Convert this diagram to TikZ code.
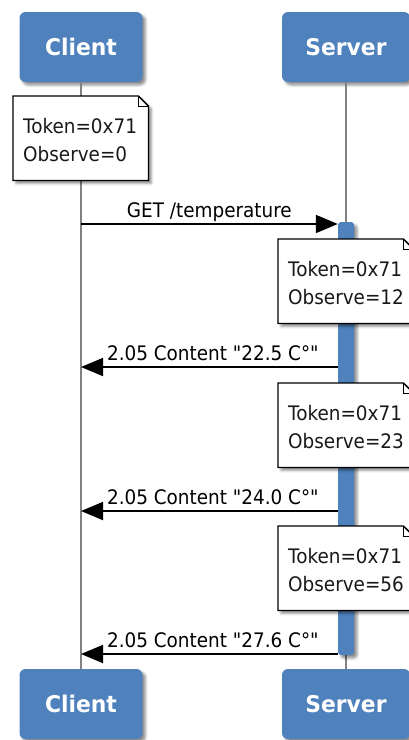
\documentclass[tikz,border=0pt]{standalone}
\usepackage{fontspec}
\usetikzlibrary{arrows.meta,shadows.blur,calc}
\newfontfamily\notefont[FakeStretch=0.92]{DejaVu Sans}
\newfontfamily\headfont[FakeStretch=0.95]{DejaVu Sans}
\definecolor{boxblue}{RGB}{79,129,189}
\definecolor{lifegray}{RGB}{130,130,130}

\begin{document}
\begin{tikzpicture}[x=1pt,y=-1pt,
  softshadow/.style={blur shadow={shadow xshift=3pt, shadow yshift=-3pt, shadow blur radius=2.5pt, shadow opacity=45}},
  actor/.style={rectangle, rounded corners=6pt, fill=boxblue, softshadow,
    minimum height=70pt, inner sep=0pt, text=white,
    font=\headfont\bfseries\fontsize{23}{28}\selectfont},
  lifeline/.style={draw=lifegray, line width=1.7pt},
  actbar/.style={rectangle, rounded corners=3pt, fill=boxblue, softshadow,
    minimum width=16pt, inner sep=0pt},
  notearea/.style={rectangle, anchor=north west, inner sep=0pt,
    minimum width=135pt, minimum height=84pt},
  notetext/.style={rectangle, anchor=north west, inner xsep=10pt, inner ysep=0pt,
    text width=115pt, minimum height=84pt, align=left, text=black!90,
    font=\notefont\fontsize{20}{28}\selectfont},
  notepaper/.style={fill=white, draw=black, line width=1.3pt, softshadow},
  notefold/.style={draw=black, line width=0.9pt},
  msg/.style={draw=black, line width=1.8pt, -{Triangle[length=22pt,width=18pt]}},
  lbl/.style={inner sep=0pt, text depth=0pt, above=6pt, midway,
    font=\notefont\fontsize{20}{24}\selectfont},
  replylbl/.style={lbl, xshift=3.5pt}
]
\useasboundingbox (0,0) rectangle (408,740);

% participants, top and bottom
\node[actor, minimum width=123pt] (c1) at (81,47) {Client};
\node[actor, minimum width=128pt] (s1) at (346,47) {Server};
\node[actor, minimum width=123pt] (c2) at (81,704) {Client};
\node[actor, minimum width=128pt] (s2) at (346,704) {Server};

% lifelines
\draw[lifeline] (c1.south) -- (c2.north);
\draw[lifeline] (s1.south) -- (s2.north);

% activation of the server
\node[actbar, minimum height=433pt] (act) at (346,438.5) {};

% notes: paper with a folded corner, then the text
\node[notearea] (n1) at (13,96)  {};
\node[notearea] (n2) at (278,239) {};
\node[notearea] (n3) at (278,383) {};
\node[notearea] (n4) at (278,526) {};
\foreach \n in {n1,n2,n3,n4}{
  \path[notepaper] (\n.north west) -- ([xshift=-10pt]\n.north east)
    -- ([yshift=-10pt]\n.north east) -- (\n.south east) -- (\n.south west) -- cycle;
  \draw[notefold] ([xshift=-10pt]\n.north east) |- ([yshift=-10pt]\n.north east);
}
\node[notetext] (t1) at ([yshift=-1.5pt]n1.north west) {Token=0x71\\Observe=0};
\node[notetext] (t2) at ([yshift=-1.5pt]n2.north west) {Token=0x71\\Observe=12};
\node[notetext] (t3) at ([yshift=-1.5pt]n3.north west) {Token=0x71\\Observe=23};
\node[notetext] (t4) at ([yshift=-1.5pt]n4.north west) {Token=0x71\\Observe=56};

% messages
\coordinate (q0) at (81,224);
\coordinate (r1) at (81,367);
\coordinate (r2) at (81,511);
\coordinate (r3) at (81,654);
\draw[msg] (q0) -- (q0 -| act.west) node[lbl] {GET /temperature};
\draw[msg] (r1 -| act.west) -- (r1) node[replylbl] {2.05 Content "22.5 C°"};
\draw[msg] (r2 -| act.west) -- (r2) node[replylbl] {2.05 Content "24.0 C°"};
\draw[msg] (r3 -| act.west) -- (r3) node[replylbl] {2.05 Content "27.6 C°"};
\end{tikzpicture}
\end{document}
